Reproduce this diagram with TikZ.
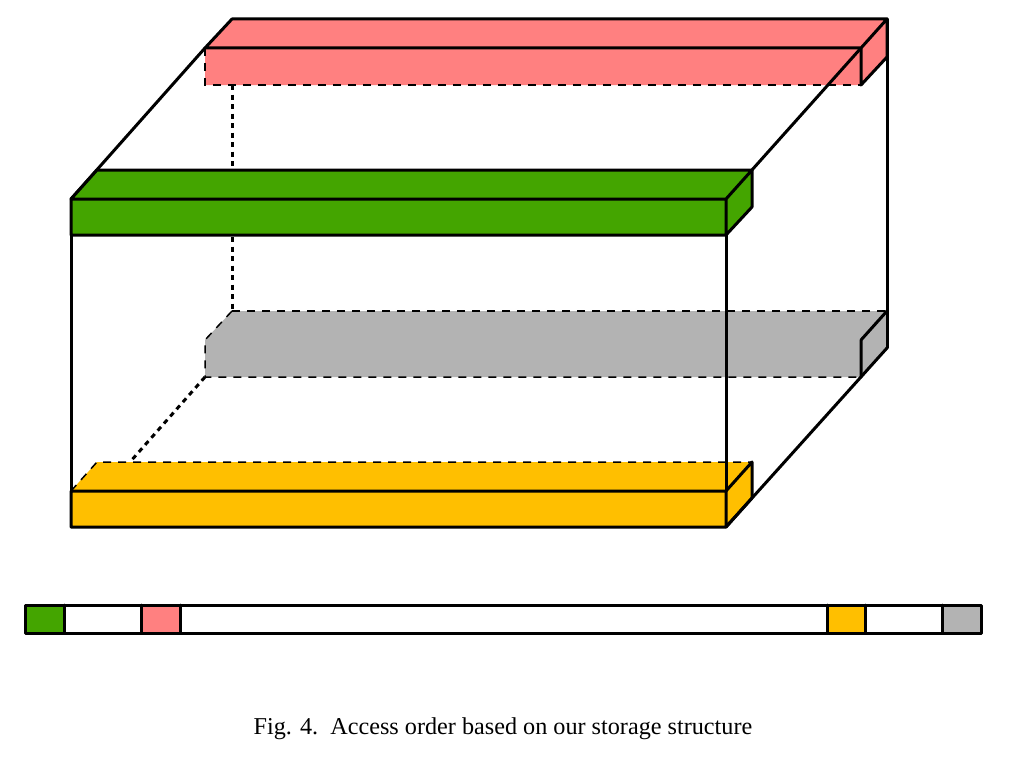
\documentclass[tikz,border=0pt]{standalone}
\usepackage{fontspec}
\setmainfont{Liberation Serif}
\definecolor{pinkc}{HTML}{FF8080}
\definecolor{greenc}{HTML}{44A500}
\definecolor{orangec}{HTML}{FFBF00}
\definecolor{grayc}{HTML}{B3B3B3}
\tikzset{
  edge/.style={black,line width=3pt,line join=round,line cap=round},
  hidden/.style={black,line width=1.5pt,dash pattern=on 8pt off 7pt},
  dotline/.style={black,line width=3pt,dash pattern=on 5pt off 4.5pt},
  caption/.style={font=\fontsize{24.2}{28}\selectfont,text=black,inner sep=0pt}
}
\begin{document}
\begin{tikzpicture}[x=1pt,y=-1pt]
\useasboundingbox (0,0) rectangle (1016,760);
% frame corners
\coordinate (PA) at (232,19); \coordinate (PB) at (887,19);
\coordinate (PC) at (205,48); \coordinate (PD) at (861,48);
\coordinate (PE) at (205,85); \coordinate (PF) at (861,85);
\coordinate (PG) at (887,57);
\coordinate (GA) at (97,170); \coordinate (GB) at (752,170);
\coordinate (GC) at (71,199); \coordinate (GD) at (726,199);
\coordinate (GE) at (71,235); \coordinate (GF) at (726,235);
\coordinate (GG) at (752,207);
\coordinate (YA) at (232,311); \coordinate (YB) at (887,311);
\coordinate (YC) at (205,340); \coordinate (YD) at (861,340);
\coordinate (YE) at (205,377); \coordinate (YF) at (861,377);
\coordinate (YG) at (887,348);
\coordinate (OA) at (97,462); \coordinate (OB) at (752,462);
\coordinate (OC) at (71,491); \coordinate (OD) at (726,491);
\coordinate (OE) at (71,527); \coordinate (OF) at (726,527);
\coordinate (OG) at (752,498);
\coordinate (DS) at (232,85);
\coordinate (DE) at (130,462);
% gray slab (back bottom)
\fill[grayc] (YA)--(YB)--(YG)--(YF)--(YE)--(YC)--cycle;
\draw[hidden] (YA)--(YC)--(YE)--(YF);
\draw[hidden] (YA)--(YB);
\draw[edge] (YD)--(YB) (YD)--(YF);
% orange slab
\fill[orangec] (OA)--(OB)--(OG)--(OF)--(OE)--(OC)--cycle;
\draw[hidden] (OC)--(OA)--(OB);
\draw[edge] (OC)--(OD)--(OB)--(OG)--(OF)--(OE)--cycle (OD)--(OF);
% pink slab
\fill[pinkc] (PA)--(PB)--(PG)--(PF)--(PE)--(PC)--cycle;
\draw[hidden] (PC)--(PE)--(PF);
\draw[edge] (PC)--(PA)--(PB)--(PG)--(PF)--(PD) (PC)--(PD)--(PB);
% hidden frame edges
\draw[dotline] (DS)--(YA);
\draw[dotline] (YE)--(DE);
% solid frame edges
\draw[edge] (PC)--(GC);
\draw[edge] (PD)--(GD);
\draw[edge] (PB)--(YG);
\draw[edge] (YG)--(OF);
\draw[edge] (GE)--(OC);
\draw[edge] (GF)--(OD);
% green slab
\fill[greenc] (GA)--(GB)--(GG)--(GF)--(GE)--(GC)--cycle;
\draw[edge] (GC)--(GA)--(GB)--(GG)--(GF)--(GE)--cycle (GC)--(GD)--(GB) (GD)--(GF);
% sequence bar
\coordinate (BA) at (25,605); \coordinate (BB) at (981,633);
\fill[white] (BA) rectangle (BB);
\fill[greenc] (26.5,606.5) rectangle (63,631.5);
\fill[pinkc] (142.5,606.5) rectangle (179,631.5);
\fill[orangec] (828.5,606.5) rectangle (864,631.5);
\fill[grayc] (943.5,606.5) rectangle (979.5,631.5);
\draw[edge] (BA) rectangle (BB);
\draw[edge] (64,605)--(64,633) (141,605)--(141,633) (180,605)--(180,633)
  (827,605)--(827,633) (865,605)--(865,633) (942,605)--(942,633);
\node[caption] (cap) at (503,729) {Fig. 4.\ \ Access order based on our storage structure};
\end{tikzpicture}
\end{document}
